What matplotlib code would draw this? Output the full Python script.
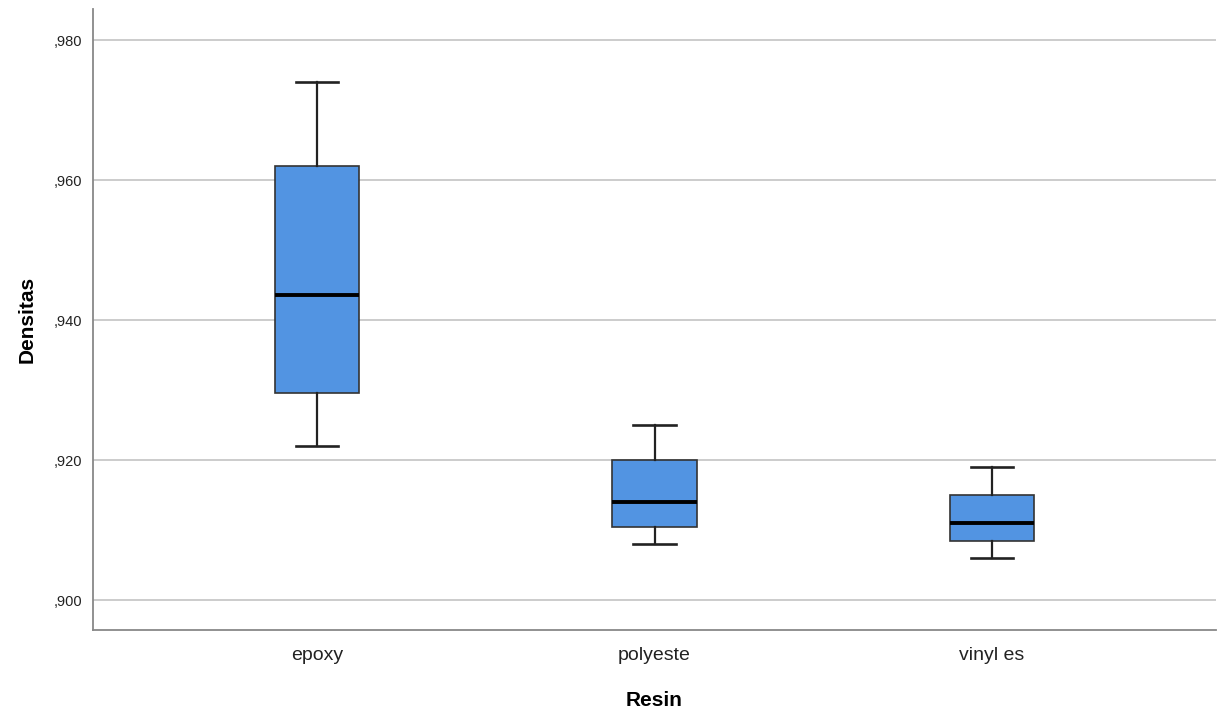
import matplotlib
matplotlib.use("Agg")
import matplotlib.pyplot as plt
from matplotlib.ticker import FuncFormatter

plt.rcParams['font.family'] = ['Liberation Sans', 'DejaVu Sans']

# Density per resin type (box plot summary)
resin = ["epoxy", "polyeste", "vinyl es"]
whislo = [0.922, 0.908, 0.906]
q1 = [0.9296, 0.9105, 0.9085]
med = [0.9436, 0.914, 0.911]
q3 = [0.962, 0.920, 0.915]
whishi = [0.974, 0.925, 0.919]
yticks = [0.900, 0.920, 0.940, 0.960, 0.980]

stats = []
for i in range(len(resin)):
    stats.append(dict(label=resin[i], whislo=whislo[i], q1=q1[i], med=med[i],
                      q3=q3[i], whishi=whishi[i], fliers=[]))

fig = plt.figure(figsize=(12.24, 7.14), dpi=100)
ax = fig.add_axes([0.076, 0.1176, 0.9175, 0.8694])

ax.bxp(stats, positions=[1, 2, 3], widths=0.25, patch_artist=True,
       boxprops=dict(facecolor="#5294e2", edgecolor="#333333", linewidth=1.2),
       medianprops=dict(color="black", linewidth=2.8),
       whiskerprops=dict(color="#222222", linewidth=1.6),
       capprops=dict(color="#222222", linewidth=1.9),
       capwidths=0.125, zorder=3)

ax.set_xlim(0.335, 3.665)
ax.set_ylim(0.89571, 0.98443)
ax.set_yticks(yticks)
ax.yaxis.set_major_formatter(FuncFormatter(lambda v, p: ("%.3f" % v)[1:].replace(".", ",")))
ax.grid(axis="y", color="#c8c8c8", linewidth=1.3, zorder=0)
ax.set_axisbelow(True)

for s in ["top", "right"]:
    ax.spines[s].set_visible(False)
for s in ["left", "bottom"]:
    ax.spines[s].set_color("#888888")
    ax.spines[s].set_linewidth(1.3)

ax.tick_params(axis="y", length=0, labelsize=10.5, pad=8, labelcolor="#222222")
ax.tick_params(axis="x", length=0, labelsize=14, pad=12, labelcolor="#222222")

ax.set_xlabel("Resin", fontsize=15, fontweight="bold", labelpad=20)
ax.set_ylabel("Densitas", fontsize=15, fontweight="bold", labelpad=12)

fig.savefig("out.png", dpi=100)
